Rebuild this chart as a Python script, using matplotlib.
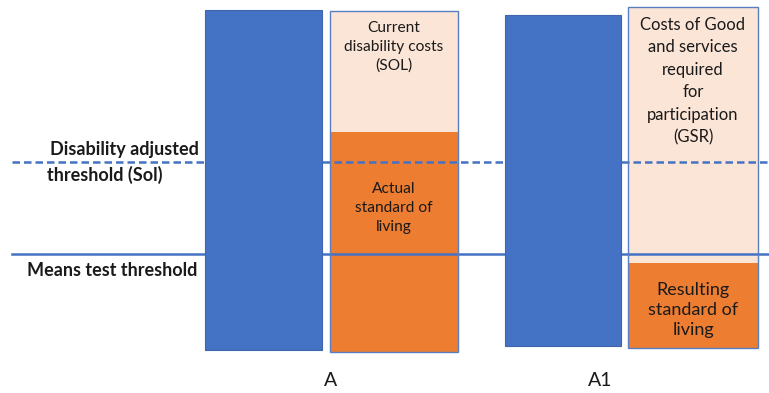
import matplotlib.pyplot as plt

plt.rcParams['font.family'] = ['Lato', 'DejaVu Sans']

# group labels and bar values (y measured up from the common baseline)
groups = ["A", "A1"]
base = [0, 4]
income = [341, 336]
living = [220, 85]
costs = [121, 256]

# thresholds
dashed_level = 189
solid_level = 97

cost_labels = ["Current\ndisability costs\n(SOL)",
               "Costs of Good\nand services\nrequired\nfor\nparticipation\n(GSR)"]
living_labels = ["Actual\nstandard of\nliving", "Resulting\nstandard of\nliving"]

blue = "#4472C4"
orange = "#ED7D31"
peach = "#FBE5D6"
ink = "#1a1a1a"

fig = plt.figure(figsize=(7.69, 3.93), dpi=100)
ax = fig.add_axes([0, 0, 1, 1])
ax.set_xlim(0, 769)
ax.set_ylim(-42, 351)
ax.axis("off")

blue_x = [263.5, 563]
blue_w = [117, 116]
stack_x = [394, 693]
stack_w = [128, 130]
label_x = [331, 600]

# threshold lines sit above the stacked bars but behind the blue bars
ax.plot([12, 769], [dashed_level] * 2, color=blue, lw=1.8, ls=(0, (3, 1.6)), zorder=3)
ax.plot([12, 769], [solid_level] * 2, color=blue, lw=1.8, zorder=3)

for i, g in enumerate(groups):
    ax.bar(blue_x[i], income[i] - (base[i] + 1), width=blue_w[i], bottom=base[i] + 1,
           color=blue, edgecolor="#3f66ad", lw=0.8, zorder=4)
    ax.bar(stack_x[i], living[i], width=stack_w[i], bottom=base[i] - 1,
           color=orange, lw=0, zorder=2)
    ax.bar(stack_x[i], costs[i], width=stack_w[i], bottom=base[i] - 1 + living[i],
           color=peach, lw=0, zorder=2)
    ax.bar(stack_x[i], living[i] + costs[i], width=stack_w[i], bottom=base[i] - 1,
           fill=False, edgecolor="#5a7fc0", lw=1.0, zorder=3.5)
    ax.text(label_x[i], -30, g, ha="center", va="center", fontsize=14, color=ink)

ax.text(stack_x[0], 304, cost_labels[0], ha="center", va="center", fontsize=11.2,
        linespacing=1.45, color=ink)
ax.text(stack_x[0], 143, living_labels[0], ha="center", va="center", fontsize=11.2,
        linespacing=1.45, color=ink)
ax.text(stack_x[1], 270, cost_labels[1], ha="center", va="center", fontsize=12,
        linespacing=1.5, color=ink)
ax.text(stack_x[1], 41, living_labels[1], ha="center", va="center", fontsize=13,
        linespacing=1.3, color=ink)

ax.text(199, 202, "Disability adjusted", ha="right", va="center", fontsize=13,
        fontweight="bold", color=ink)
ax.text(47, 176, "threshold (Sol)", ha="left", va="center", fontsize=13,
        fontweight="bold", color=ink)
ax.text(197, 81, "Means test threshold", ha="right", va="center", fontsize=13,
        fontweight="bold", color=ink)

fig.savefig("out.png", dpi=100, facecolor="white")
